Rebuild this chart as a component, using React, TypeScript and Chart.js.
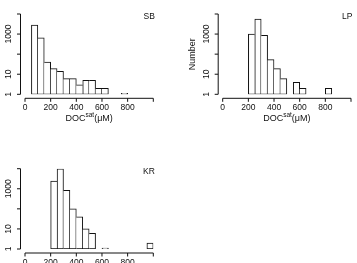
import React, { useEffect, useRef } from "react";
import { Chart, registerables } from "chart.js";

Chart.register(...registerables);

// Histogram bins are 50 µM wide; only non-empty bins are listed (left edge + count).
const BIN_WIDTH = 50;

const sbBins = [50, 100, 150, 200, 250, 300, 350, 400, 450, 500, 550, 600, 750];
const sbCounts = [2800, 650, 40, 19, 14, 6, 6, 3, 5, 5, 2, 2, 1];

const lpBins = [200, 250, 300, 350, 400, 450, 550, 600, 800];
const lpCounts = [1000, 5600, 860, 53, 19, 6, 4, 2, 2];

const krBins = [200, 250, 300, 350, 400, 450, 500, 600, 950];
const krCounts = [2400, 9800, 830, 100, 40, 10, 6, 1, 2];

const xTicks = [0, 200, 400, 600, 800, 1000];
const xTickLabels = ["0", "200", "400", "600", "800", ""];
const yTicks = [1, 10, 100, 1000, 10000];
const yTickLabels = ["1", "10", "", "1000", ""];

const FONT = '"Liberation Sans", Arial, Helvetica, sans-serif';
const INK = "#111111";

type PanelOpts = {
  label: string;
  xTitle: boolean;
  yTitle: boolean;
};

// Base-R style axes: detached axis lines that only span the tick range.
const rAxes = {
  id: "rAxes",
  afterDraw(chart: any, _args: any, opts: PanelOpts) {
    const { ctx, chartArea: a, scales } = chart;
    const x = scales.x;
    const y = scales.y;
    ctx.save();
    ctx.strokeStyle = INK;
    ctx.fillStyle = INK;
    ctx.lineWidth = 1;

    // x axis
    const ay = a.bottom + 4;
    const xa = x.getPixelForValue(xTicks[0]);
    const xb = x.getPixelForValue(xTicks[xTicks.length - 1]);
    ctx.beginPath();
    ctx.moveTo(xa, ay);
    ctx.lineTo(xb, ay);
    for (const t of xTicks) {
      const px = x.getPixelForValue(t);
      ctx.moveTo(px, ay);
      ctx.lineTo(px, ay + 3.5);
    }
    ctx.stroke();
    ctx.font = `8.5px ${FONT}`;
    ctx.textAlign = "center";
    ctx.textBaseline = "middle";
    xTicks.forEach((t, i) => {
      if (xTickLabels[i]) ctx.fillText(xTickLabels[i], x.getPixelForValue(t), ay + 9.6);
    });

    // y axis (log)
    const ax = a.left - 4.5;
    const ya = y.getPixelForValue(yTicks[0]);
    const yb = y.getPixelForValue(yTicks[yTicks.length - 1]);
    ctx.beginPath();
    ctx.moveTo(ax, ya);
    ctx.lineTo(ax, yb);
    for (const t of yTicks) {
      const py = y.getPixelForValue(t);
      ctx.moveTo(ax, py);
      ctx.lineTo(ax - 3.5, py);
    }
    ctx.stroke();
    yTicks.forEach((t, i) => {
      if (!yTickLabels[i]) return;
      ctx.save();
      ctx.translate(ax - 11.5, y.getPixelForValue(t));
      ctx.rotate(-Math.PI / 2);
      ctx.fillText(yTickLabels[i], 0, 0);
      ctx.restore();
    });

    // axis titles
    if (opts.xTitle) {
      const big = `9px ${FONT}`;
      const small = `6.5px ${FONT}`;
      ctx.textAlign = "left";
      ctx.textBaseline = "alphabetic";
      ctx.font = big;
      const w1 = ctx.measureText("DOC").width;
      const w3 = ctx.measureText("(\u03bcM)").width;
      ctx.font = small;
      const w2 = ctx.measureText("sat").width;
      const cx = (a.left + a.right) / 2;
      let sx = cx - (w1 + w2 + w3) / 2;
      const base = ay + 22.5;
      ctx.font = big;
      ctx.fillText("DOC", sx, base);
      sx += w1;
      ctx.font = small;
      ctx.fillText("sat", sx, base - 4);
      sx += w2;
      ctx.font = big;
      ctx.fillText("(\u03bcM)", sx, base);
    }
    if (opts.yTitle) {
      ctx.save();
      ctx.font = `9px ${FONT}`;
      ctx.textAlign = "center";
      ctx.textBaseline = "middle";
      ctx.translate(ax - 25.5, (a.top + a.bottom) / 2);
      ctx.rotate(-Math.PI / 2);
      ctx.fillText("Number", 0, 0);
      ctx.restore();
    }

    // panel tag
    ctx.font = `8.5px ${FONT}`;
    ctx.textAlign = "right";
    ctx.textBaseline = "middle";
    ctx.fillText(opts.label, a.right + 1.5, a.top + 2.8);
    ctx.restore();
  },
};

type PanelProps = {
  bins: number[];
  counts: number[];
  label: string;
  left: number;
  top: number;
  width: number;
  height: number;
  padding: { left: number; right: number; top: number; bottom: number };
  xTitle?: boolean;
  yTitle?: boolean;
};

function Histogram(props: PanelProps) {
  const ref = useRef<HTMLCanvasElement | null>(null);
  useEffect(() => {
    if (!ref.current) return;
    const { bins, counts } = props;
    const points = bins.map((b, i) => ({ x: b + BIN_WIDTH / 2, y: counts[i] }));
    // A shared edge between two adjacent bins is drawn once, by the taller bar.
    const edges = (i: number) => {
      const prevJoined = i > 0 && bins[i - 1] + BIN_WIDTH === bins[i];
      const nextJoined = i < bins.length - 1 && bins[i] + BIN_WIDTH === bins[i + 1];
      const left = !prevJoined || counts[i] > counts[i - 1] ? 1 : 0;
      const right = !nextJoined || counts[i] >= counts[i + 1] ? 1 : 0;
      return { top: 1, bottom: 1, left, right };
    };
    const chart = new Chart(ref.current, {
      type: "bar",
      data: {
        datasets: [
          {
            data: points as any,
            backgroundColor: "#ffffff",
            borderColor: INK,
            borderSkipped: false,
            minBarLength: 1,
            barPercentage: 1,
            categoryPercentage: 1,
            borderWidth: (c: any) => edges(c.dataIndex),
          } as any,
        ],
      },
      options: {
        animation: false,
        responsive: false,
        devicePixelRatio: 1,
        events: [],
        layout: { padding: props.padding },
        plugins: {
          legend: { display: false },
          tooltip: { enabled: false },
          rAxes: { label: props.label, xTitle: !!props.xTitle, yTitle: !!props.yTitle },
        } as any,
        scales: {
          x: { type: "linear", min: 0, max: 1000, offset: false, display: false },
          y: { type: "logarithmic", min: 1, max: 10000, display: false },
        },
      },
      plugins: [rAxes as any],
    });
    return () => chart.destroy();
  }, []);
  return (
    <div
      style={{
        position: "absolute",
        left: props.left,
        top: props.top,
        width: props.width,
        height: props.height,
      }}
    >
      <canvas
        ref={ref}
        width={props.width}
        height={props.height}
        style={{ display: "block", width: props.width, height: props.height }}
      />
    </div>
  );
}

export default function App() {
  return (
    <div
      style={{
        position: "absolute",
        left: 0,
        top: 0,
        width: 357,
        height: 263,
        overflow: "hidden",
        background: "#ffffff",
      }}
    >
      <Histogram
        bins={sbBins}
        counts={sbCounts}
        label="SB"
        left={0}
        top={0}
        width={178}
        height={155}
        padding={{ left: 25, right: 24.7, top: 14, bottom: 60.7 }}
        xTitle
      />
      <Histogram
        bins={lpBins}
        counts={lpCounts}
        label="LP"
        left={178}
        top={0}
        width={179}
        height={155}
        padding={{ left: 44.7, right: 6, top: 14, bottom: 60.7 }}
        xTitle
        yTitle
      />
      <Histogram
        bins={krBins}
        counts={krCounts}
        label="KR"
        left={0}
        top={155}
        width={178}
        height={108}
        padding={{ left: 25, right: 24.7, top: 13.7, bottom: 14 }}
      />
    </div>
  );
}
